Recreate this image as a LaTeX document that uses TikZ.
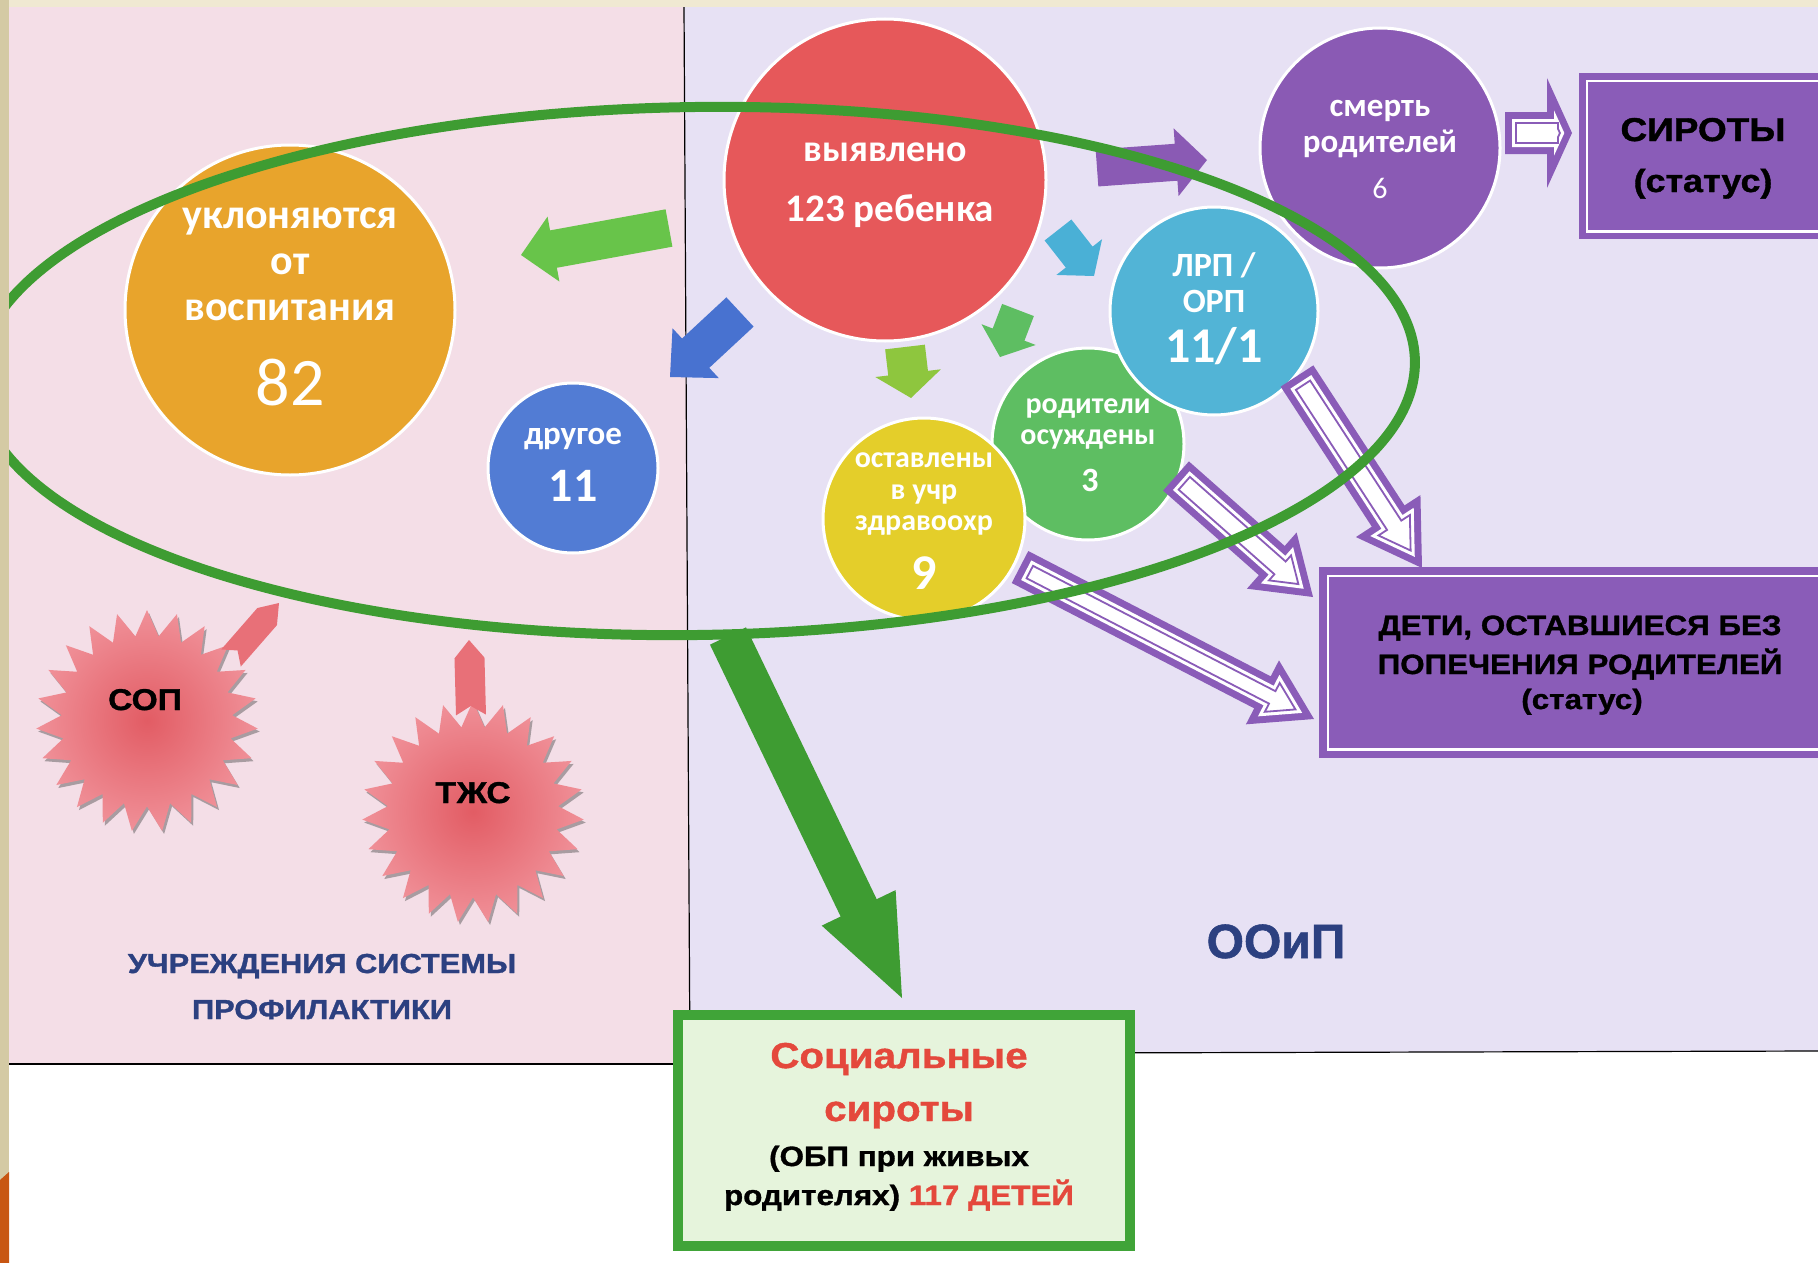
\documentclass[tikz,border=0pt]{standalone}
\usepackage{fontspec}
\setmainfont{Carlito}
\newfontfamily\arialb{Liberation Sans}[FakeStretch=1.12,FakeBold=1.2]
\newfontfamily\arialn{Liberation Sans}[FakeBold=1.2]
\usetikzlibrary{calc,shapes.geometric,shadows}
\newcommand\fs[1]{\fontsize{#1pt}{#1pt}\selectfont}
\definecolor{pinkbg}{RGB}{244,222,231}
\definecolor{lavbg}{RGB}{231,225,244}
\definecolor{cream}{RGB}{240,233,210}
\definecolor{beige}{RGB}{212,202,164}
\definecolor{rust}{RGB}{200,86,18}
\definecolor{corange}{RGB}{232,164,44}
\definecolor{cblue}{RGB}{82,124,212}
\definecolor{cred}{RGB}{230,88,90}
\definecolor{cpurple}{RGB}{138,90,180}
\definecolor{ccyan}{RGB}{82,180,214}
\definecolor{cgreen}{RGB}{94,190,98}
\definecolor{cyellow}{RGB}{228,206,42}
\definecolor{egreen}{RGB}{62,156,50}
\definecolor{agreen}{RGB}{104,196,74}
\definecolor{ablue}{RGB}{72,114,208}
\definecolor{aygreen}{RGB}{142,198,62}
\definecolor{acyan}{RGB}{74,176,214}
\definecolor{boxpur}{RGB}{138,92,184}
\definecolor{navy}{RGB}{44,64,128}
\definecolor{sred}{RGB}{228,72,60}
\definecolor{sfill}{RGB}{230,244,220}
\definecolor{sborder}{RGB}{64,164,56}
\definecolor{starin}{RGB}{226,92,100}
\definecolor{starout}{RGB}{240,144,152}
\definecolor{pinkarr}{RGB}{232,112,120}
% block arrow: style, tail, tip, half shaft, half head, head length
\newcommand{\blockarrow}[6]{%
  \path[#1] let \p1=(#2), \p2=(#3),
    \n1={atan2(\y2-\y1,\x2-\x1)},
    \n2={veclen(\x2-\x1,\y2-\y1)-(#6)} in
    ($(\p1)+(\n1+90:{(#4)*1pt})$)
    -- ($(\p1)+(\n1:{\n2*1pt})+(\n1+90:{(#4)*1pt})$)
    -- ($(\p1)+(\n1:{\n2*1pt})+(\n1+90:{(#5)*1pt})$)
    -- (\p2)
    -- ($(\p1)+(\n1:{\n2*1pt})+(\n1-90:{(#5)*1pt})$)
    -- ($(\p1)+(\n1:{\n2*1pt})+(\n1-90:{(#4)*1pt})$)
    -- ($(\p1)+(\n1-90:{(#4)*1pt})$) -- cycle;}
% notched pencil arrow: style, tail, tip, half width, head length, notch
\newcommand{\notcharrow}[6]{%
  \path[#1] let \p1=(#2), \p2=(#3),
    \n1={atan2(\y2-\y1,\x2-\x1)},
    \n2={veclen(\x2-\x1,\y2-\y1)-(#5)} in
    ($(\p1)+(\n1+90:{(#4)*1pt})$)
    -- ($(\p1)+(\n1:{\n2*1pt})+(\n1+90:{(#4)*1pt})$)
    -- (\p2)
    -- ($(\p1)+(\n1:{\n2*1pt})+(\n1-90:{(#4)*1pt})$)
    -- ($(\p1)+(\n1-90:{(#4)*1pt})$)
    -- ($(\p1)+(\n1:{(#6)*1pt})$) -- cycle;}
% inset layer of a block arrow: style, tail, tip, w, hw, hl, inset
\newcommand{\insetarrow}[7]{%
  \pgfmathsetmacro\hS{sqrt((#5)*(#5)+(#6)*(#6))}%
  \pgfmathsetmacro\hT{(#7)*\hS/(#5)}%
  \pgfmathsetmacro\hW{(#5)-(#7)*(\hS+(#5))/(#6)}%
  \pgfmathsetmacro\hL{(#6)-(#7)-\hT}%
  \blockarrow{#1}{$(#2)!#7pt!(#3)$}{$(#3)!\hT pt!(#2)$}{#4-#7}{\hW}{\hL}}
% hollow purple arrow: tail, tip, half shaft, half head, head length
\newcommand{\hollowarrow}[5]{%
  \blockarrow{fill=boxpur}{#1}{#2}{#3}{#4}{#5}
  \insetarrow{fill=white}{#1}{#2}{#3}{#4}{#5}{7}
  \insetarrow{draw=boxpur,line width=1.8pt}{#1}{#2}{#3}{#4}{#5}{11}}
\begin{document}
\begin{tikzpicture}[x=1pt,y=-1pt,
  circ/.style={circle, draw=white, line width=3pt, inner sep=0pt},
  ctext/.style={anchor=base, inner sep=0pt, text=white},
  btext/.style={anchor=base, inner sep=0pt, text=black},
  starb/.style={star, star points=23, star point ratio=1.3, inner sep=0pt,
    shade, inner color=starin, outer color=starout,
    drop shadow={shadow xshift=2pt, shadow yshift=-3pt, opacity=0.45, fill=black!70}}]
\useasboundingbox (0,0) rectangle (1818,1263);
\clip (0,0) rectangle (1818,1263);
\fill[white] (0,0) rectangle (1818,1263);
% panels
\fill[pinkbg] (9,7) -- (684,7) -- (690,1064) -- (9,1064) -- cycle;
\fill[lavbg] (684,7) -- (1818,7) -- (1818,1051) -- (690,1054) -- cycle;
\draw[black, line width=1.2pt] (684,7) -- (690,1064);
\draw[black, line width=1.2pt] (9,1064) -- (690,1064);
\draw[black, line width=1.2pt] (690,1054) -- (1818,1051);

% small arrows from the red circle
\coordinate (gA) at (669,228); \coordinate (gB) at (521,255);
\blockarrow{fill=agreen}{gA}{gB}{19}{33}{33}
\coordinate (bA) at (740,312); \coordinate (bB) at (670,377);
\blockarrow{fill=ablue}{bA}{bB}{20}{34}{35}
\coordinate (yA) at (905,347); \coordinate (yB) at (911,398);
\blockarrow{fill=aygreen}{yA}{yB}{20}{33}{25}
\coordinate (sgA) at (1018,310); \coordinate (sgB) at (1000,357);
\blockarrow{fill=cgreen}{sgA}{sgB}{17}{29}{24}
\coordinate (cA) at (1058,230); \coordinate (cB) at (1094,276);
\blockarrow{fill=acyan}{cA}{cB}{17}{29}{24}
\coordinate (pA) at (1097,168); \coordinate (pB) at (1207,160);
\blockarrow{fill=cpurple}{pA}{pB}{18.5}{34}{31}

% circles
\node[circ, fill=corange, minimum size=330pt] (evade) at (290,310) {};
\node[circ, fill=cblue, minimum size=170pt] (other) at (573,468) {};
\node[circ, fill=cred, minimum size=322pt] (found) at (885,180) {};
\node[circ, fill=cpurple, minimum size=240pt] (death) at (1380,148) {};
\node[circ, fill=cgreen, minimum size=192pt] (convict) at (1088,444) {};
\node[circ, fill=cyellow, minimum size=202pt] (health) at (924,519) {};
\node[circ, fill=ccyan, minimum size=208pt] (lrp) at (1214,311) {};

% hollow arrows
\coordinate (hA) at (1505,133); \coordinate (hB) at (1572,133);
\hollowarrow{hA}{hB}{21}{55}{25}
\coordinate (lA) at (1297,376); \coordinate (lB) at (1422,568);
\hollowarrow{lA}{lB}{19.5}{38.5}{62}
\coordinate (rA) at (1176,476); \coordinate (rB) at (1313,597);
\hollowarrow{rA}{rB}{19.5}{37.5}{55}
\coordinate (zA) at (1020,567); \coordinate (zB) at (1314,719);
\hollowarrow{zA}{zB}{18}{36}{58}

% circle texts
\node[ctext, font=\fs{42}\bfseries] (t1) at (290,228) {уклоняются};
\node[ctext, font=\fs{42}\bfseries] (t2) at (290,274) {от};
\node[ctext, font=\fs{42}\bfseries] (t3) at (290,320) {воспитания};
\node[ctext, font=\fs{68}] (t4) at (290,405) {82};
\node[ctext, font=\fs{33}\bfseries] (t5) at (573,444) {другое};
\node[ctext, font=\fs{48}\bfseries] (t6) at (573,501) {11};
\node[ctext, font=\fs{38}\bfseries] (t7) at (885,161) {выявлено};
\node[ctext, font=\fs{39}\bfseries] (t8) at (890,221) {123 ребенка};
\node[ctext, font=\fs{33}\bfseries] (t9) at (1380,117) {смерть};
\node[ctext, font=\fs{33}\bfseries] (t10) at (1380,152) {родителей};
\node[ctext, font=\fs{30}] (t11) at (1380,198) {6};
\node[ctext, font=\fs{34}\bfseries] (t12) at (1214,276) {ЛРП /};
\node[ctext, font=\fs{34}\bfseries] (t13) at (1214,312) {ОРП};
\node[ctext, font=\fs{50}\bfseries] (t14) at (1214,362) {11/1};
\node[ctext, font=\fs{30}\bfseries] (t15) at (1088,413) {родители};
\node[ctext, font=\fs{30}\bfseries] (t16) at (1088,444) {осуждены};
\node[ctext, font=\fs{34}\bfseries] (t17) at (1090,491) {3};
\node[ctext, font=\fs{30}\bfseries] (t18) at (924,467) {оставлены};
\node[ctext, font=\fs{30}\bfseries] (t19) at (924,499) {в учр};
\node[ctext, font=\fs{30}\bfseries] (t20) at (924,530) {здравоохр};
\node[ctext, font=\fs{50}\bfseries] (t21) at (924,589) {9};

% green ellipse and big arrow
\draw[egreen, line width=10pt, rotate around={0.8:(696,371)}] (696,371) ellipse [x radius=719pt, y radius=264pt];
\coordinate (gbA) at (728,636); \coordinate (gbB) at (902,998);
\blockarrow{fill=egreen}{gbA}{gbB}{20}{41}{100}

% status boxes
\node[fill=boxpur, minimum width=251pt, minimum height=166pt, anchor=north west, inner sep=0pt] (orphbox) at (1579,73) {};
\draw[white, line width=2.5pt] ($(orphbox.north west)+(8,8)$) rectangle ($(orphbox.south east)+(-8,-8)$);
\node[btext, font=\fs{33}\arialb\bfseries] (orph1) at (1703,141) {СИРОТЫ};
\node[btext, font=\fs{32}\arialb\bfseries] (orph2) at (1703,192) {(статус)};

\node[fill=boxpur, minimum width=511pt, minimum height=191pt, anchor=north west, inner sep=0pt] (lackbox) at (1319,567) {};
\draw[white, line width=2.5pt] ($(lackbox.north west)+(9,9)$) rectangle ($(lackbox.south east)+(-9,-9)$);
\node[btext, font=\fs{28}\arialb\bfseries] (lack1) at (1580,635) {ДЕТИ, ОСТАВШИЕСЯ БЕЗ};
\node[btext, font=\fs{28}\arialb\bfseries] (lack2) at (1580,674) {ПОПЕЧЕНИЯ РОДИТЕЛЕЙ};
\node[btext, font=\fs{28}\arialb\bfseries] (lack3) at (1582,709) {(статус)};

% social orphans box
\node[draw=sborder, line width=10pt, fill=sfill, minimum width=452pt, minimum height=231pt, anchor=north west, inner sep=0pt] (social) at (673,1010) {};
\node[anchor=base, inner sep=0pt, text=sred, font=\fs{36}\arialb\bfseries] (soc1) at (899,1068) {Социальные};
\node[anchor=base, inner sep=0pt, text=sred, font=\fs{36}\arialb\bfseries] (soc2) at (899,1121) {сироты};
\node[btext, font=\fs{28}\arialb\bfseries] (soc3) at (899,1166) {(ОБП при живых};
\node[btext, font=\fs{28}\arialb\bfseries] (soc4) at (899,1205) {родителях) \textcolor{sred}{117 ДЕТЕЙ}};

% starbursts
\node[starb, minimum size=222pt] (sop) at (147,721) {};
\node[starb, minimum size=222pt] (tzhs) at (473,812) {};
\node[btext, font=\fs{30}\arialb\bfseries] (soptx) at (145,710) {СОП};
\node[btext, font=\fs{30}\arialb\bfseries] (tzhstx) at (473,803) {ТЖС};
\coordinate (spA) at (231,658); \coordinate (spB) at (279,603);
\notcharrow{fill=pinkarr}{spA}{spB}{13}{18}{10}
\coordinate (tpA) at (471,715); \coordinate (tpB) at (469,640);
\notcharrow{fill=pinkarr}{tpA}{tpB}{15}{18}{9}

% panel captions
\node[anchor=base, inner sep=0pt, text=navy, font=\fs{27.5}\arialb\bfseries] (cap1) at (322,973) {УЧРЕЖДЕНИЯ СИСТЕМЫ};
\node[anchor=base, inner sep=0pt, text=navy, font=\fs{27.5}\arialb\bfseries] (cap2) at (322,1019) {ПРОФИЛАКТИКИ};
\node[anchor=base, inner sep=0pt, text=navy, font=\fs{48}\arialn\bfseries] (cap3) at (1276,958) {ООиП};

% frame strips
\fill[cream] (0,0) rectangle (1818,7);
\fill[beige] (0,0) rectangle (9,1263);
\fill[rust] (0,1180) -- (9,1172) -- (9,1263) -- (0,1263) -- cycle;
\end{tikzpicture}
\end{document}
